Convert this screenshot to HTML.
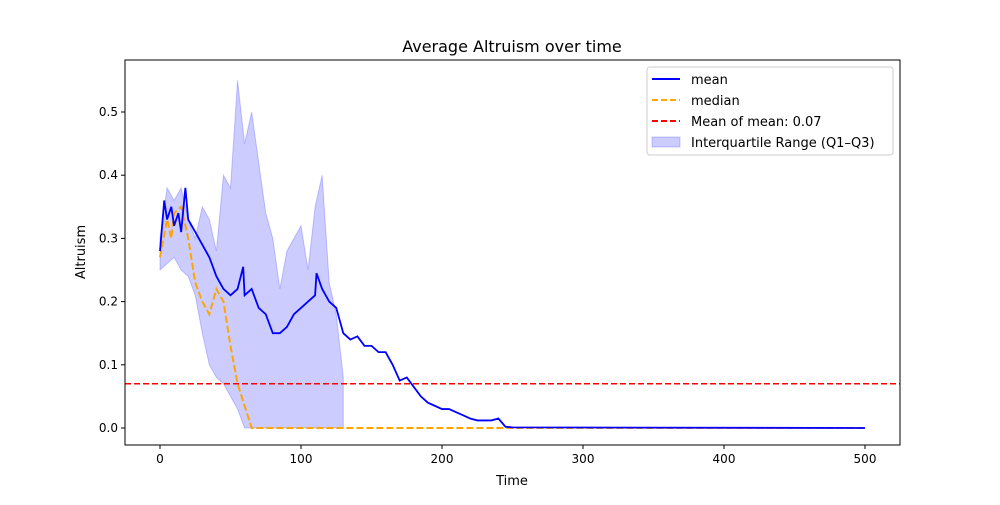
<!DOCTYPE html>
<html><head><meta charset="utf-8"><style>body{margin:0;background:#fff}svg text{font-family:"DejaVu Sans","Liberation Sans",sans-serif}</style></head>
<body>
<svg id="c" width="1000" height="500" xmlns="http://www.w3.org/2000/svg"></svg>
<script>
const times=[0,3,5,8,10,13,15,18,20,25,30,35,40,45,50,55,59,60,65,70,75,80,85,90,95,100,105,110,111,115,120,125,130,135,140,145,150,155,160,165,170,175,180,185,190,195,200,205,210,215,220,225,230,235,240,245,250,500];
const meanVals=[0.28,0.36,0.33,0.35,0.32,0.34,0.31,0.38,0.33,0.31,0.29,0.27,0.24,0.22,0.21,0.22,0.255,0.21,0.22,0.19,0.18,0.15,0.15,0.16,0.18,0.19,0.2,0.21,0.245,0.22,0.2,0.19,0.15,0.14,0.145,0.13,0.13,0.12,0.12,0.1,0.075,0.08,0.065,0.05,0.04,0.035,0.03,0.03,0.025,0.02,0.015,0.012,0.012,0.012,0.015,0.002,0.001,0.0];
const medTimes=[0,5,8,10,15,20,25,30,35,40,45,50,55,60,65,500];
const medVals=[0.27,0.33,0.3,0.34,0.35,0.3,0.23,0.2,0.18,0.22,0.2,0.13,0.07,0.035,0,0];
const iqrTimes=[0,5,10,15,20,25,30,35,40,45,50,55,60,65,70,75,80,85,90,95,100,105,110,115,120,125,130];
const iqrUpper=[0.3,0.38,0.36,0.38,0.33,0.3,0.35,0.33,0.28,0.4,0.38,0.55,0.45,0.5,0.42,0.34,0.3,0.22,0.28,0.3,0.32,0.25,0.35,0.4,0.23,0.18,0.08];
const iqrLower=[0.25,0.26,0.27,0.25,0.24,0.21,0.15,0.1,0.08,0.07,0.05,0.03,0,0,0,0,0,0,0,0,0,0,0,0,0,0,0];
const meanOfMean=0.07;
const xTicks=[0,100,200,300,400,500];
const yTicks=[0,0.1,0.2,0.3,0.4,0.5];
const L=125,R=900,T=60,B=445;
const X=t=>160+t*1.41, Y=v=>428-v*632;
const s=document.getElementById('c');const NS='http://www.w3.org/2000/svg';
function mk(tag,a,txt){const e=document.createElementNS(NS,tag);for(const k in a)e.setAttribute(k,a[k]);if(txt!==undefined)e.textContent=txt;s.appendChild(e);return e;}
let e;
e=mk('text',{x:512,y:52,'text-anchor':'middle','font-size':16},'Average Altruism over time');

let p='M'+iqrTimes.map((t,i)=>X(t)+','+Y(iqrUpper[i])).join(' L')+' L'+iqrTimes.slice().reverse().map((t,i)=>X(t)+','+Y(iqrLower[iqrTimes.length-1-i])).join(' L')+'Z';
e=mk('path',{d:p,fill:'rgba(0,0,255,0.2)',stroke:'rgba(0,0,255,0.2)','stroke-width':1});

e=mk('line',{x1:L,x2:R,y1:Y(meanOfMean),y2:Y(meanOfMean),stroke:'red','stroke-width':1.5,'stroke-dasharray':'6,3'});

e=mk('polyline',{points:medTimes.map((t,i)=>X(t)+','+Y(medVals[i])).join(' '),fill:'none',stroke:'orange','stroke-width':2,'stroke-dasharray':'7,3'});

e=mk('polyline',{points:times.map((t,i)=>X(t)+','+Y(meanVals[i])).join(' '),fill:'none',stroke:'blue','stroke-width':1.8});

e=mk('rect',{x:L,y:T,width:R-L,height:B-T,fill:'none',stroke:'#000','stroke-width':1});

xTicks.forEach(t=>{e=mk('line',{x1:X(t),x2:X(t),y1:B,y2:B+4,stroke:'#000'});
e=mk('text',{x:X(t),y:B+18,'text-anchor':'middle','font-size':12},String(t));});
yTicks.forEach(v=>{e=mk('line',{x1:L-4,x2:L,y1:Y(v),y2:Y(v),stroke:'#000'});
e=mk('text',{x:L-7,y:Y(v)+4,'text-anchor':'end','font-size':12},v.toFixed(1));});
e=mk('text',{x:512,y:485,'text-anchor':'middle','font-size':13},'Time');
e=mk('text',{x:85,y:252,'text-anchor':'middle','font-size':13,transform:'rotate(-90 85 252)'},'Altruism');
e=mk('rect',{x:647,y:67,width:246,height:88,rx:3,fill:'#fff',stroke:'#ccc'});
const leg=[['mean','blue',''],['median','orange','6,3'],['Mean of mean: 0.07','red','6,3'],['Interquartile Range (Q1–Q3)','band','']];
leg.forEach((l,i)=>{const y=79+i*21;
if(l[1]==='band'){e=mk('rect',{x:652,y:y-5,width:28,height:10,fill:'rgba(0,0,255,0.2)',stroke:'rgba(0,0,255,0.2)'});}
else{e=mk('line',{x1:652,x2:680,y1:y,y2:y,stroke:l[1],'stroke-width':2,'stroke-dasharray':l[2]});}

e=mk('text',{x:691,y:y+5,'font-size':13},l[0]);});
</script>
</body></html>
